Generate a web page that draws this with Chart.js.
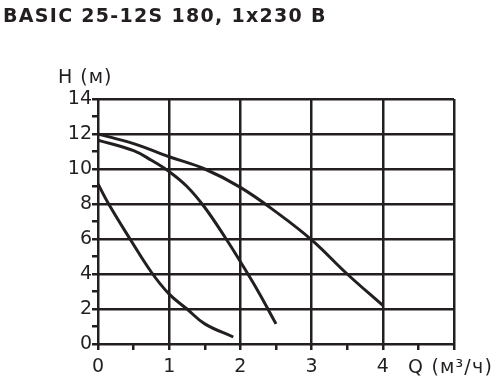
<!DOCTYPE html>
<html>
<head>
<meta charset="utf-8">
<script src="https://cdn.jsdelivr.net/npm/chart.js@4"></script>
<style>
  body { margin: 0; background: #fff; }
  #wrap { position: relative; width: 499px; height: 389px; }
  #chart { position: absolute; left: 0; top: 0; }
  .lbl { position: absolute; font-family: "DejaVu Sans", Verdana, sans-serif; color: #231f20; white-space: nowrap; }
  #title { left: 3px; top: 4px; font-size: 19px; font-weight: bold; letter-spacing: 1.3px; }
  #hname { left: 58px; top: 65px; font-size: 19px; letter-spacing: 1px; }
  #qname { left: 408px; top: 355px; font-size: 19px; letter-spacing: 1.2px; }
</style>
</head>
<body>
<div id="wrap">
  <canvas id="chart" width="499" height="389"></canvas>
  <div class="lbl" id="title">BASIC 25-12S 180, 1x230 В</div>
  <div class="lbl" id="hname">H (м)</div>
  <div class="lbl" id="qname">Q (м³/ч)</div>
</div>
<script>
const ink = "#231f20";

// pump curves, Q (m3/h) vs H (m)
const speed3Q = [0, 0.5, 1, 1.5, 2, 2.5, 3, 3.5, 4];
const speed3H = [12, 11.45, 10.7, 10.0, 8.95, 7.55, 5.95, 4.0, 2.2];

const speed2Q = [0, 0.5, 0.75, 1, 1.25, 1.5, 1.8, 2, 2.25, 2.5];
const speed2H = [11.65, 11.05, 10.5, 9.85, 9.0, 7.8, 6.0, 4.7, 3.0, 1.15];

const speed1Q = [0, 0.15, 0.45, 0.75, 1, 1.25, 1.5, 1.9];
const speed1H = [9.15, 8.0, 6.0, 4.1, 2.85, 2.0, 1.15, 0.4];

const xTickLabels = ["0", "1", "2", "3", "4"];
const yTickLabels = ["0", "2", "4", "6", "8", "10", "12", "14"];

function toPoints(qs, hs) {
  return qs.map((q, i) => ({ x: q, y: hs[i] }));
}

function curve(qs, hs) {
  return {
    data: toPoints(qs, hs),
    showLine: true,
    borderColor: ink,
    borderWidth: 3,
    pointRadius: 0,
    tension: 0.4,
    fill: false
  };
}

const ctx = document.getElementById("chart").getContext("2d");
new Chart(ctx, {
  type: "scatter",
  data: {
    datasets: [
      curve(speed3Q, speed3H),
      curve(speed2Q, speed2H),
      curve(speed1Q, speed1H)
    ]
  },
  options: {
    responsive: false,
    animation: false,
    layout: { padding: { left: 0, top: 99, right: 45, bottom: 0 } },
    plugins: { legend: { display: false }, tooltip: { enabled: false } },
    scales: {
      x: {
        type: "linear",
        min: 0,
        max: 5,
        border: { display: false },
        afterFit: (s) => { s.height = 45; },
        grid: {
          lineWidth: 2.5,
          color: (c) => Number.isInteger(c.tick.value) ? ink : "transparent",
          tickColor: ink,
          tickLength: 6
        },
        ticks: {
          stepSize: 0.5,
          autoSkip: false,
          maxRotation: 0,
          padding: 6,
          color: ink,
          font: { family: "DejaVu Sans", size: 19 },
          callback: (v) => {
            const s = String(v);
            return xTickLabels.includes(s) ? s : "";
          }
        }
      },
      y: {
        type: "linear",
        min: 0,
        max: 14,
        border: { display: false },
        afterFit: (s) => { s.width = 98; },
        grid: {
          lineWidth: 2.5,
          color: (c) => c.tick.value % 2 === 0 ? ink : "transparent",
          tickColor: ink,
          tickLength: 6
        },
        ticks: {
          stepSize: 1,
          autoSkip: false,
          padding: 0,
          color: ink,
          font: { family: "DejaVu Sans", size: 19 },
          callback: (v) => {
            const s = String(v);
            return yTickLabels.includes(s) ? s : "";
          }
        }
      }
    }
  }
});
</script>
</body>
</html>
